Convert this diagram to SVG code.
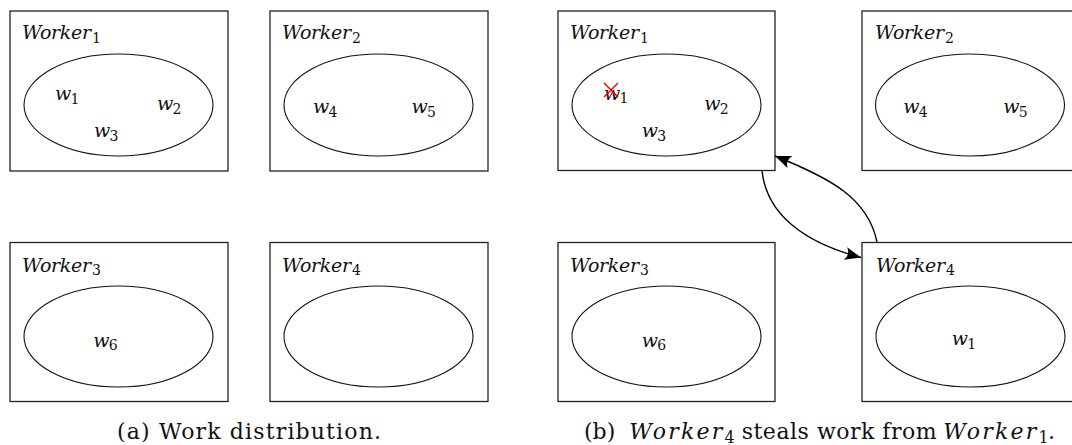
<svg xmlns="http://www.w3.org/2000/svg" width="1072" height="445" viewBox="0 0 1072 445">
<style>
.box{fill:#fff;stroke:#222;stroke-width:1.3}
.ell{fill:none;stroke:#111;stroke-width:1.1}
.lbl{font-family:"DejaVu Serif","Liberation Serif",serif;font-style:italic;font-size:19px;fill:#111}
.sub{font-family:"DejaVu Serif","Liberation Serif",serif;font-style:normal;font-size:14px;fill:#111}
.w{font-family:"DejaVu Serif","Liberation Serif",serif;font-style:italic;font-size:19px;fill:#111}
.cap{font-family:"DejaVu Serif","Liberation Serif",serif;font-size:22px;fill:#111}
.it{font-style:italic}
.conn{fill:none;stroke:#000;stroke-width:1.4}
.cross{stroke:#e00;stroke-width:1.4}
</style>
<defs>
<marker id="ah" markerUnits="userSpaceOnUse" markerWidth="20" markerHeight="14" refX="17" refY="7" orient="auto" viewBox="0 0 20 14">
<path d="M17,7 L1,0.5 Q6,7 1,13.5 Z" fill="#000"/>
</marker>
</defs>

<!-- Panel (a) -->
<g id="a-worker1">
<rect class="box" x="10" y="11" width="218" height="160"/>
<ellipse class="ell" cx="118.5" cy="105" rx="94.5" ry="51"/>
<text class="lbl" x="22" y="39.3" textLength="69" lengthAdjust="spacing">Worker</text><text class="sub" x="92" y="43">1</text>
<text class="w" x="55" y="100">w</text><text class="sub" x="70.5" y="103.5">1</text>
<text class="w" x="157" y="110">w</text><text class="sub" x="172.5" y="113.5">2</text>
<text class="w" x="94" y="137">w</text><text class="sub" x="109.5" y="140.5">3</text>
</g>
<g id="a-worker2">
<rect class="box" x="270" y="11" width="218" height="160"/>
<ellipse class="ell" cx="378.5" cy="105" rx="94.5" ry="51"/>
<text class="lbl" x="282" y="39.3" textLength="69" lengthAdjust="spacing">Worker</text><text class="sub" x="352" y="43">2</text>
<text class="w" x="313" y="113">w</text><text class="sub" x="328.5" y="116.5">4</text>
<text class="w" x="411.5" y="113">w</text><text class="sub" x="427" y="116.5">5</text>
</g>
<g id="a-worker3">
<rect class="box" x="10" y="242.5" width="218" height="159"/>
<ellipse class="ell" cx="118.5" cy="336.5" rx="94.5" ry="50.5"/>
<text class="lbl" x="22" y="271.5" textLength="69" lengthAdjust="spacing">Worker</text><text class="sub" x="92" y="275">3</text>
<text class="w" x="93.3" y="346.7">w</text><text class="sub" x="108.8" y="350.2">6</text>
</g>
<g id="a-worker4">
<rect class="box" x="270" y="242.5" width="218" height="159"/>
<ellipse class="ell" cx="378.5" cy="336.5" rx="94.5" ry="50.5"/>
<text class="lbl" x="282" y="271.5" textLength="69" lengthAdjust="spacing">Worker</text><text class="sub" x="352" y="275">4</text>
</g>

<!-- Panel (b) -->
<g id="b-worker1">
<rect class="box" x="558" y="11" width="217" height="159.5"/>
<ellipse class="ell" cx="666.5" cy="105" rx="94.5" ry="51"/>
<text class="lbl" x="570" y="39.3" textLength="69" lengthAdjust="spacing">Worker</text><text class="sub" x="640" y="43">1</text>
<text class="w" x="604" y="99.5">w</text><text class="sub" x="619.5" y="103">1</text>
<line class="cross" x1="604" y1="83" x2="618" y2="97"/>
<line class="cross" x1="604" y1="97" x2="618" y2="83"/>
<text class="w" x="704.3" y="110">w</text><text class="sub" x="719.8" y="113.5">2</text>
<text class="w" x="641.7" y="137">w</text><text class="sub" x="657.2" y="140.5">3</text>
</g>
<g id="b-worker2">
<rect class="box" x="862" y="11" width="218" height="159.5"/>
<ellipse class="ell" cx="970" cy="105" rx="94.5" ry="51"/>
<text class="lbl" x="875" y="39.3" textLength="69" lengthAdjust="spacing">Worker</text><text class="sub" x="945" y="43">2</text>
<text class="w" x="903.3" y="113">w</text><text class="sub" x="918.8" y="116.5">4</text>
<text class="w" x="1003.3" y="113">w</text><text class="sub" x="1018.8" y="116.5">5</text>
</g>
<g id="b-worker3">
<rect class="box" x="558" y="242.5" width="217" height="159"/>
<ellipse class="ell" cx="666.5" cy="336.5" rx="94.5" ry="50.5"/>
<text class="lbl" x="570" y="271.5" textLength="69" lengthAdjust="spacing">Worker</text><text class="sub" x="640" y="275">3</text>
<text class="w" x="641.7" y="346.7">w</text><text class="sub" x="657.2" y="350.2">6</text>
</g>
<g id="b-worker4">
<rect class="box" x="862" y="242.5" width="218" height="159"/>
<ellipse class="ell" cx="970.5" cy="336.5" rx="94.5" ry="50.5"/>
<text class="lbl" x="876" y="271.5" textLength="69" lengthAdjust="spacing">Worker</text><text class="sub" x="946" y="275">4</text>
<text class="w" x="951.7" y="345">w</text><text class="sub" x="967.2" y="348.5">1</text>
</g>

<g id="connectors">
<path class="conn" d="M762,171 C767,215 805,243 861,257.5" marker-end="url(#ah)"/>
<path class="conn" d="M877,242 C868,198 830,178 775,156" marker-end="url(#ah)"/>
</g>

<g id="captions">
<text class="cap" x="249" y="439" text-anchor="middle" textLength="264" lengthAdjust="spacing">(a) Work distribution.</text>
<text class="cap" y="439"><tspan x="584">(b)</tspan><tspan class="it" x="629.3" textLength="93" lengthAdjust="spacing">Worker</tspan><tspan x="724.5" dy="4" font-size="16">4</tspan><tspan x="741.7" dy="-4" textLength="195" lengthAdjust="spacing">steals work from</tspan><tspan class="it" x="943.3" textLength="93" lengthAdjust="spacing">Worker</tspan><tspan x="1038.5" dy="4" font-size="16">1</tspan><tspan x="1048" dy="-4">.</tspan></text>
</g>
</svg>
